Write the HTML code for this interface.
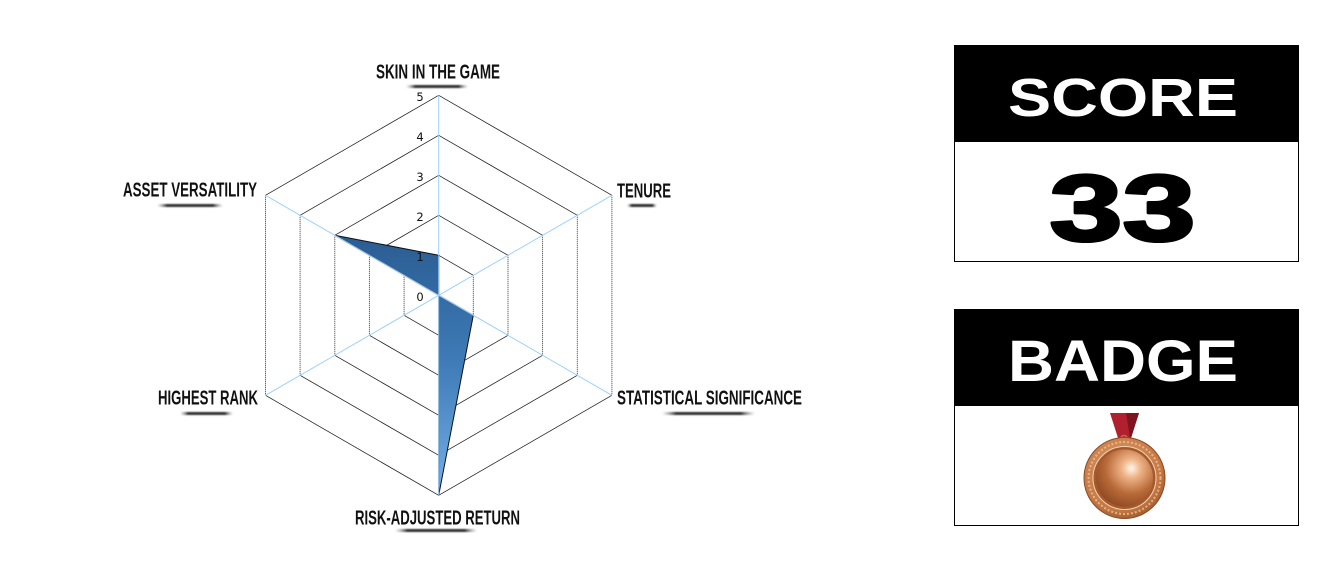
<!DOCTYPE html>
<html><head><meta charset="utf-8"><style>
html,body{margin:0;padding:0;background:#fff;}
svg{display:block;}
</style></head><body>
<svg width="1344" height="572" viewBox="0 0 1344 572" xmlns="http://www.w3.org/2000/svg">
<defs>
<linearGradient id="fillg" x1="0" y1="235" x2="0" y2="495" gradientUnits="userSpaceOnUse">
<stop offset="0" stop-color="#2a5c92"/>
<stop offset="0.5" stop-color="#3f7cb8"/>
<stop offset="1" stop-color="#74b0e8"/>
</linearGradient>
<linearGradient id="ul" x1="0" y1="0" x2="1" y2="0">
<stop offset="0" stop-color="#888" stop-opacity="0"/>
<stop offset="0.15" stop-color="#333"/>
<stop offset="0.85" stop-color="#333"/>
<stop offset="1" stop-color="#888" stop-opacity="0"/>
</linearGradient>
<filter id="blur" x="-20%" y="-200%" width="140%" height="500%"><feGaussianBlur stdDeviation="0.9"/></filter>
<radialGradient id="disc" cx="0.62" cy="0.33" r="0.75">
<stop offset="0" stop-color="#fff6ec"/>
<stop offset="0.22" stop-color="#efb488"/>
<stop offset="0.6" stop-color="#b86a38"/>
<stop offset="1" stop-color="#8a4520"/>
</radialGradient>
<radialGradient id="rim" cx="0.45" cy="0.4" r="0.7">
<stop offset="0" stop-color="#e0a072"/>
<stop offset="0.7" stop-color="#c57a45"/>
<stop offset="1" stop-color="#8c4a22"/>
</radialGradient>
</defs>

<g stroke="#222" stroke-width="0.8" fill="none">
<path d="M438.7,255.3 L473.3,275.3 M473.3,315.3 L438.7,335.3 L404.1,315.3 M404.1,275.3 L438.7,255.3"/>
<path d="M438.7,215.3 L508.0,255.3 M508.0,335.3 L438.7,375.3 L369.4,335.3 M369.4,255.3 L438.7,215.3"/>
<path d="M438.7,175.3 L542.6,235.3 M542.6,355.3 L438.7,415.3 L334.8,355.3 M334.8,235.3 L438.7,175.3"/>
<path d="M438.7,135.3 L577.3,215.3 M577.3,375.3 L438.7,455.3 L300.1,375.3 M300.1,215.3 L438.7,135.3"/>
<path d="M438.7,95.3 L611.9,195.3 M611.9,395.3 L438.7,495.3 L265.5,395.3 M265.5,195.3 L438.7,95.3"/>
</g>
<g stroke="#222" stroke-width="0.9" fill="none" stroke-dasharray="1 1">
<path d="M473.3,275.3 V315.3 M404.1,275.3 V315.3"/>
<path d="M508.0,255.3 V335.3 M369.4,255.3 V335.3"/>
<path d="M542.6,235.3 V355.3 M334.8,235.3 V355.3"/>
<path d="M577.3,215.3 V375.3 M300.1,215.3 V375.3"/>
<path d="M611.9,195.3 V395.3 M265.5,195.3 V395.3"/>
</g>

<polygon points="438.7,255.3 438.7,295.3 473.3,315.3 438.7,495.3 438.7,295.3 334.8,235.3" fill="url(#fillg)" stroke="#111" stroke-width="1"/>

<g stroke="#9fd0ff" stroke-width="1">
<line x1="438.7" y1="295.3" x2="438.7" y2="95.3"/>
<line x1="438.7" y1="295.3" x2="611.9" y2="195.3"/>
<line x1="438.7" y1="295.3" x2="611.9" y2="395.3"/>
<line x1="438.7" y1="295.3" x2="438.7" y2="495.3"/>
<line x1="438.7" y1="295.3" x2="265.5" y2="395.3"/>
<line x1="438.7" y1="295.3" x2="265.5" y2="195.3"/>
</g>

<g font-family="DejaVu Sans, Liberation Sans, sans-serif" font-size="11.5" fill="#111" text-anchor="middle">
<text x="420" y="101">5</text>
<text x="420" y="141">4</text>
<text x="420" y="181">3</text>
<text x="420" y="221">2</text>
<text x="420" y="261">1</text>
<text x="420" y="301">0</text>
</g>

<g font-family="Liberation Sans, sans-serif" font-weight="bold" font-size="20" fill="#111">
<text x="376" y="78.5" textLength="124" lengthAdjust="spacingAndGlyphs">SKIN IN THE GAME</text>
<text x="617" y="197.5" textLength="54" lengthAdjust="spacingAndGlyphs">TENURE</text>
<text x="123" y="196.5" textLength="134" lengthAdjust="spacingAndGlyphs">ASSET VERSATILITY</text>
<text x="617" y="404.5" textLength="185" lengthAdjust="spacingAndGlyphs">STATISTICAL SIGNIFICANCE</text>
<text x="158" y="404.5" textLength="100" lengthAdjust="spacingAndGlyphs">HIGHEST RANK</text>
<text x="355" y="524.5" textLength="165" lengthAdjust="spacingAndGlyphs">RISK-ADJUSTED RETURN</text>
</g>

<g filter="url(#blur)" fill="url(#ul)">
<rect x="406" y="85" width="62" height="3"/>
<rect x="627" y="204" width="30" height="3"/>
<rect x="157" y="204" width="66" height="3"/>
<rect x="662" y="412" width="93" height="3"/>
<rect x="180" y="412" width="53" height="3"/>
<rect x="395" y="529" width="82" height="3"/>
</g>

<rect x="954.5" y="45.5" width="344" height="216" fill="#fff" stroke="#000" stroke-width="1"/>
<rect x="954" y="45" width="345" height="97" fill="#000"/>
<text x="1008" y="116" font-family="Liberation Sans, sans-serif" font-weight="bold" font-size="54" fill="#fff" textLength="230" lengthAdjust="spacingAndGlyphs">SCORE</text>
<text x="1049.5" y="240.5" font-family="Liberation Sans, sans-serif" font-weight="bold" font-size="94" fill="#000" stroke="#000" stroke-width="3" stroke-linejoin="round" textLength="146" lengthAdjust="spacingAndGlyphs">33</text>

<rect x="954.5" y="309.5" width="344" height="216" fill="#fff" stroke="#000" stroke-width="1"/>
<rect x="954" y="309" width="345" height="97" fill="#000"/>
<text x="1008" y="381" font-family="Liberation Sans, sans-serif" font-weight="bold" font-size="58" fill="#fff" textLength="230" lengthAdjust="spacingAndGlyphs">BADGE</text>

<polygon points="1110,413 1139,413 1131,438 1118,438" fill="#b0202e"/>
<polygon points="1126,413 1139,413 1131,438 1130,438" fill="#7e1420"/>
<circle cx="1124" cy="439" r="3.5" fill="none" stroke="#b87040" stroke-width="1.5"/>
<circle cx="1124.5" cy="478" r="40.5" fill="url(#rim)" stroke="#8a4a24" stroke-width="1"/>
<circle cx="1124.5" cy="478" r="36" fill="none" stroke="#f0c09a" stroke-width="2" stroke-dasharray="2 2" opacity="0.8"/>
<circle cx="1124.5" cy="478" r="31.5" fill="#a45a2c" stroke="#f5d2b2" stroke-width="1"/>
<circle cx="1124.5" cy="478" r="28.5" fill="url(#disc)"/>
</svg>
</body></html>
